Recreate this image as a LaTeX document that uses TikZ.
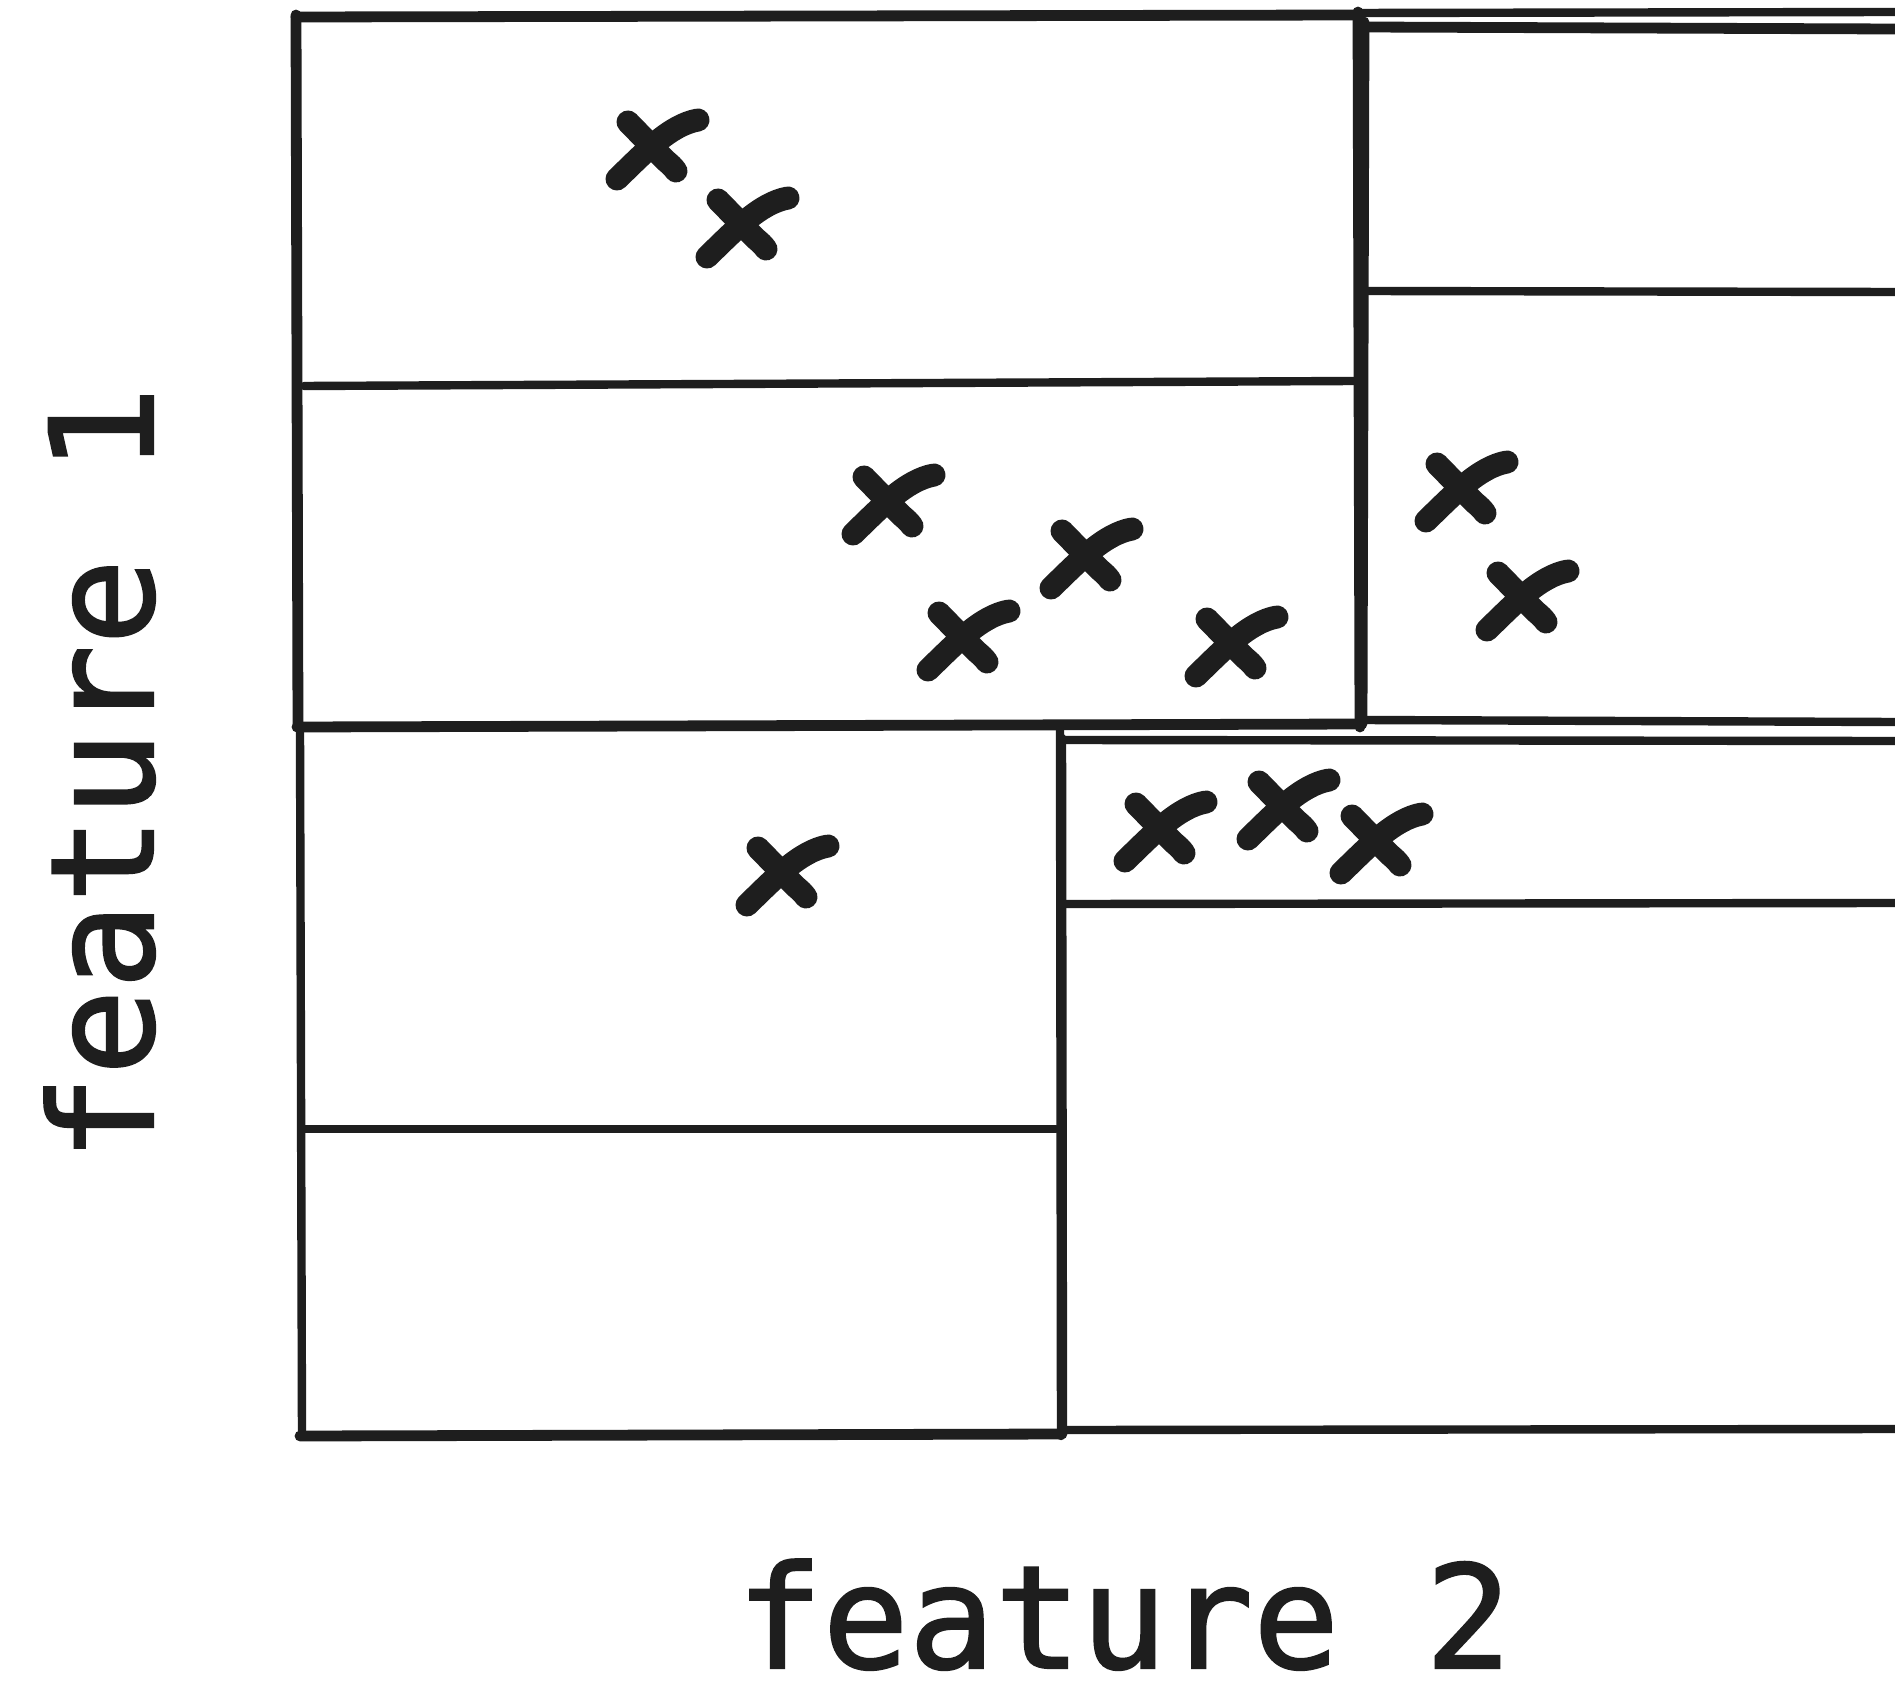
\documentclass[tikz,border=0pt]{standalone}
\usepackage{fontspec}
\newfontfamily\labelfont[BoldFont={DejaVu Sans Mono},BoldFeatures={FakeBold=1.6}]{DejaVu Sans Mono}
\begin{document}
\definecolor{ink}{RGB}{30,30,30}
\begin{tikzpicture}[x=0.5pt,y=-0.5pt,
  edge/.style={draw=ink,line width=4.2pt,line cap=round,line join=round},
  heavy/.style={draw=ink,line width=5.4pt,line cap=round,line join=round},
  stroke/.style={draw=ink,line width=11.5pt,line cap=round,line join=round},
  xmark/.pic={
    \draw[stroke] (-33,32) .. controls (-5,5) and (20,-22) .. (48,-27);
    \draw[stroke] (-22,-25) -- (15,13) .. controls (22,19) .. (26,24);
  },
  axislabel/.style={text=ink,font=\labelfont\bfseries\fontsize{71.5}{80}\selectfont,
    inner sep=0pt,text depth=0pt}]
\useasboundingbox[fill=white] (0,0) rectangle (1895,1695);

% upper left cell pair
\draw[heavy] (296,17) -- (1360,15);
\draw[heavy] (296,15) -- (298,727);
\draw[heavy] (297,727) -- (1362,724);
\draw[edge] (304,386) -- (1354,381);
\draw[heavy] (1358,12) -- (1360,727);
\draw[heavy] (1364,22) -- (1362,722);

% upper right cell pair
\draw[edge] (1356,13) -- (1895,12);
\draw[heavy] (1362,27) -- (1895,29);
\draw[edge] (1362,291) -- (1895,292);
\draw[edge] (1362,720) -- (1895,722);

% lower left cell pair
\draw[edge] (300,729) -- (302,1436);
\draw[heavy] (300,1436) -- (1062,1434);
\draw[edge] (1060,729) -- (1061,1436);
\draw[edge] (302,1129) -- (1056,1129);

% lower right cell pair
\draw[edge] (1062,738) -- (1063,1430);
\draw[edge] (1062,740) -- (1895,741);
\draw[edge] (1066,904) -- (1895,903);
\draw[edge] (1066,1430) -- (1895,1429);

% data points
\pic (p1) at (650,147) {xmark};
\pic (p2) at (740,225) {xmark};
\pic (p3) at (886,502) {xmark};
\pic (p4) at (1084,556) {xmark};
\pic (p5) at (961,638) {xmark};
\pic (p6) at (1229,644) {xmark};
\pic (p7) at (1459,489) {xmark};
\pic (p8) at (1520,598) {xmark};
\pic (p9) at (780,873) {xmark};
\pic (p10) at (1158,829) {xmark};
\pic (p11) at (1281,807) {xmark};
\pic (p12) at (1374,841) {xmark};

% axis labels
\node[axislabel,anchor=base] (f2) at (1124,1668) {feature 2};
\node[axislabel,anchor=base,rotate=90] (f1) at (153,774) {feature 1};
\end{tikzpicture}
\end{document}
